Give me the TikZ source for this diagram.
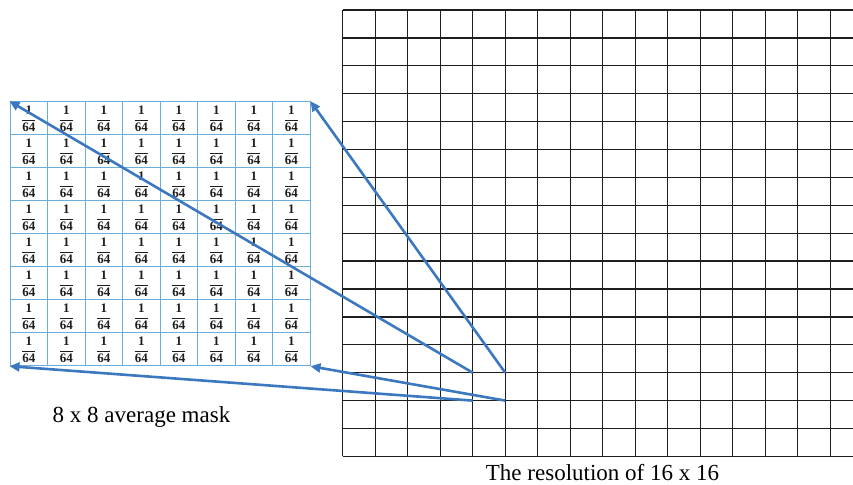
\documentclass[tikz,border=0pt]{standalone}
\usepackage{fontspec}
\setmainfont{Liberation Serif}
\usetikzlibrary{arrows.meta}
\definecolor{Pointer}{HTML}{3B78C0}
\definecolor{Cell}{HTML}{6AAEDC}
\definecolor{Ink}{HTML}{1E1E1E}

\begin{document}
\begin{tikzpicture}[x=1pt,y=-1pt]
    \useasboundingbox (0,0) rectangle (853,484);

    % the 16 x 16 image, cut off at the right border
    \foreach \i in {0,...,16}
      \draw[Ink,line width=1.3pt] (342.7+32.5*\i,10) -- (342.7+32.5*\i,456.4);
    \foreach \j in {0,...,16}
      \draw[Ink,line width=1.3pt] (342.7,10+27.9*\j) -- (863,10+27.9*\j);
    \node[anchor=base,font=\fontsize{23}{27}\selectfont] (reslabel) at (602.5,480) {The resolution of 16 x 16};

    % the 8 x 8 mask
    \node[draw=Cell,line width=1pt,minimum width=300pt,minimum height=264pt,inner sep=0pt] (mask) at (160,233.7) {};
    \foreach \k in {1,...,7} {
      \draw[Cell,line width=1pt] (10+37.5*\k,101.7) -- (10+37.5*\k,365.7);
      \draw[Cell,line width=1pt] (10,101.7+33*\k) -- (310,101.7+33*\k);
    }
    \foreach \i in {0,...,7}
      \foreach \j in {0,...,7}
        \node[text=Ink,inner sep=0pt,font=\fontsize{13}{15}\selectfont] (w\i\j) at (28.75+37.5*\i,118.6+33*\j) {$\displaystyle\mathbf{\frac{1}{64}}$};
    \node[anchor=base,font=\fontsize{23}{27}\selectfont] (masklabel) at (141.5,422.3) {8 x 8 average mask};

    % where the mask sits on the image
    \coordinate (fromTL) at (472.7,372.7);
    \coordinate (fromTR) at (505.2,372.7);
    \coordinate (fromBR) at (505.2,400.6);
    \coordinate (fromBL) at (472.7,400.6);
    \draw[Pointer,line width=2.6pt,-{Triangle[length=10pt,width=9pt]}] (fromTL) -- (mask.north west);
    \draw[Pointer,line width=2.6pt,-{Triangle[length=10pt,width=9pt]}] (fromTR) -- (mask.north east);
    \draw[Pointer,line width=2.6pt,-{Triangle[length=10pt,width=9pt]}] (fromBR) -- (mask.south east);
    \draw[Pointer,line width=2.6pt,-{Triangle[length=10pt,width=9pt]}] (fromBL) -- (mask.south west);
\end{tikzpicture}
\end{document}
